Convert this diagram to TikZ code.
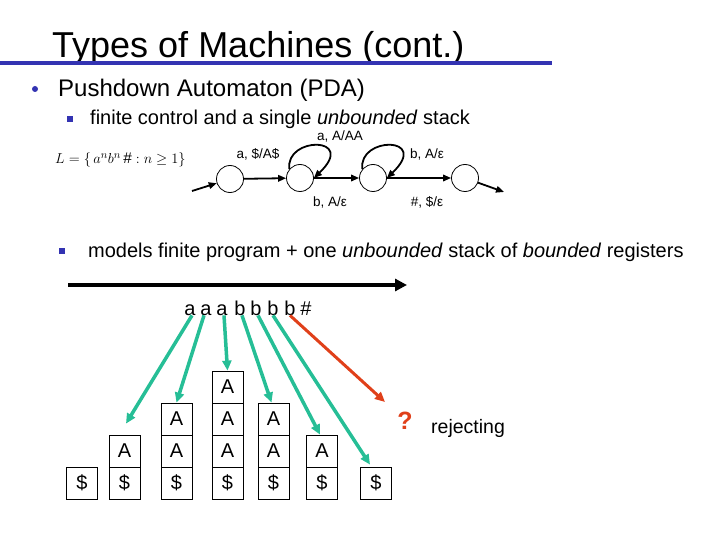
\documentclass[tikz,border=0pt]{standalone}
\usepackage{fontspec}
\setmainfont{Liberation Sans}
\usetikzlibrary{arrows.meta,calc}
\definecolor{slideblue}{RGB}{51,51,178}
\definecolor{tealarr}{RGB}{38,190,150}
\definecolor{rejred}{RGB}{224,64,26}
\begin{document}
\begin{tikzpicture}[x=1pt,y=-1pt,
  txt/.style={inner sep=0pt, anchor=base west},
  state/.style={circle, draw, line width=0.8pt, minimum size=27pt, inner sep=0pt},
  edge/.style={line width=1.8pt, -{Triangle[length=8pt,width=6.5pt]}},
  lbl/.style={font=\fontsize{13.5}{14}\selectfont, inner sep=0pt},
  cell/.style={draw, line width=0.8pt, minimum width=31pt, minimum height=32pt, inner sep=0pt, font=\fontsize{20}{20}\selectfont},
  letter/.style={font=\fontsize{20}{20}\selectfont, inner sep=0pt, anchor=base},
  tarrow/.style={draw=tealarr, line width=3.5pt, -{Triangle[length=10pt,width=9pt]}, tealarr},
  rarrow/.style={draw=rejred, line width=3pt, -{Triangle[length=10pt,width=9pt]}, rejred},
  sqbullet/.style={fill=slideblue, minimum size=5.5pt, inner sep=0pt},
]
\useasboundingbox (0,0) rectangle (720,540);
% title
\node[txt, font=\fontsize{36}{36}\selectfont] (title) at (52,58) {Types of Machines (cont.)};
\coordinate (rule0) at (0,63);
\coordinate (rule1) at (552,63);
\draw[slideblue, line width=4pt] (rule0) -- (rule1);
% bullets
\node[circle, fill=slideblue, minimum size=6pt, inner sep=0pt] (bul1) at (35,89) {};
\node[txt, font=\fontsize{24}{24}\selectfont] (pda) at (58,97) {Pushdown Automaton (PDA)};
\node[sqbullet] (sb1) at (70,119) {};
\node[txt, font=\fontsize{20}{20}\selectfont] (fc) at (90,125) {finite control and a single \textit{unbounded} stack};
\node[sqbullet] (sb2) at (62,251) {};
\node[txt, font=\fontsize{20}{20}\selectfont] (models) at (88,258) {models finite program + one \textit{unbounded} stack of \textit{bounded} registers};
% language
\node[font=\fontsize{15.4}{16}\selectfont, anchor=west, inner sep=0pt] (lang) at (55,160) {$L = \{\,a^n b^n\,\# : n \ge 1\}$};
% PDA
\node[state] (q1) at (230,179) {};
\node[state] (q2) at (300,178) {};
\node[state] (q3) at (373,178) {};
\node[state] (q4) at (465,178) {};
\coordinate (start) at (192,191);
\coordinate (exit) at (504,192);
\draw[edge] (start) -- (q1);
\draw[edge] (q1) -- (q2);
\draw[edge] (q2) -- (q3);
\draw[edge] (q3) -- (q4);
\draw[edge] (q4) -- (exit);
\draw[edge] (q2.140) .. controls ($(q2)+(-15,-42)$) and ($(q2)+(58,-42)$) .. (q2.east);
\draw[edge] (q3.140) .. controls ($(q3)+(-15,-42)$) and ($(q3)+(58,-42)$) .. (q3.east);
\node[lbl] (l12) at (258,154) {a, \$/A\$};
\node[lbl] (l22) at (340,136) {a, A/AA};
\node[lbl] (l33) at (427,154) {b, A/ε};
\node[lbl] (l23) at (330,202) {b, A/ε};
\node[lbl] (l34) at (427,202) {\#, \$/ε};
% tape arrow
\coordinate (t0) at (68,285);
\coordinate (t1) at (407,285);
\draw[line width=4pt, -{Triangle[length=12pt,width=12pt]}] (t0) -- (t1);
% input letters
\node[letter] (l1) at (190,315) {a};
\node[letter] (l2) at (206,315) {a};
\node[letter] (l3) at (222,315) {a};
\node[letter] (l4) at (240,315) {b};
\node[letter] (l5) at (256,315) {b};
\node[letter] (l6) at (273,315) {b};
\node[letter] (l7) at (290,315) {b};
\node[letter] (l8) at (306,315) {\#};
% stacks
\node[cell] (c1r1) at (82,483) {\$};
\node[cell] (c2r1) at (124.5,483) {\$};
\node[cell] (c2r2) at (124.5,451) {A};
\node[cell] (c3r1) at (176.5,483) {\$};
\node[cell] (c3r2) at (176.5,451) {A};
\node[cell] (c3r3) at (176.5,419) {A};
\node[cell] (c4r1) at (227.5,483) {\$};
\node[cell] (c4r2) at (227.5,451) {A};
\node[cell] (c4r3) at (227.5,419) {A};
\node[cell] (c4r4) at (227.5,387) {A};
\node[cell] (c5r1) at (273.5,483) {\$};
\node[cell] (c5r2) at (273.5,451) {A};
\node[cell] (c5r3) at (273.5,419) {A};
\node[cell] (c6r1) at (322,483) {\$};
\node[cell] (c6r2) at (322,451) {A};
\node[cell] (c7r1) at (376,483) {\$};
% arrows to stacks
\draw[tarrow] ($(l1.south)+(2,0)$) -- ($(c2r2.north)+(1.5,-11)$);
\draw[tarrow] ($(l2.south)+(-2,0)$) -- (c3r3.north);
\draw[tarrow] ($(l3.south)+(2,0)$) -- (c4r4.north);
\draw[tarrow] ($(l4.south)+(2,0)$) -- ($(c5r3.north)+(-2,0)$);
\draw[tarrow] ($(l5.south)+(2,0)$) -- ($(c6r2.north)+(-2,0)$);
\draw[tarrow] ($(l6.south)+(0,0)$) -- ($(c7r1.north)+(-6,-2)$);
\node[font=\fontsize{25}{25}\selectfont\bfseries, text=rejred, inner sep=0pt] (qm) at (405,421) {?};
\coordinate (rend) at (385,402);
\draw[rarrow] (l7.south) -- (rend);
\node[txt, font=\fontsize{19.5}{20}\selectfont] (rej) at (431,433) {rejecting};
\end{tikzpicture}
\end{document}
